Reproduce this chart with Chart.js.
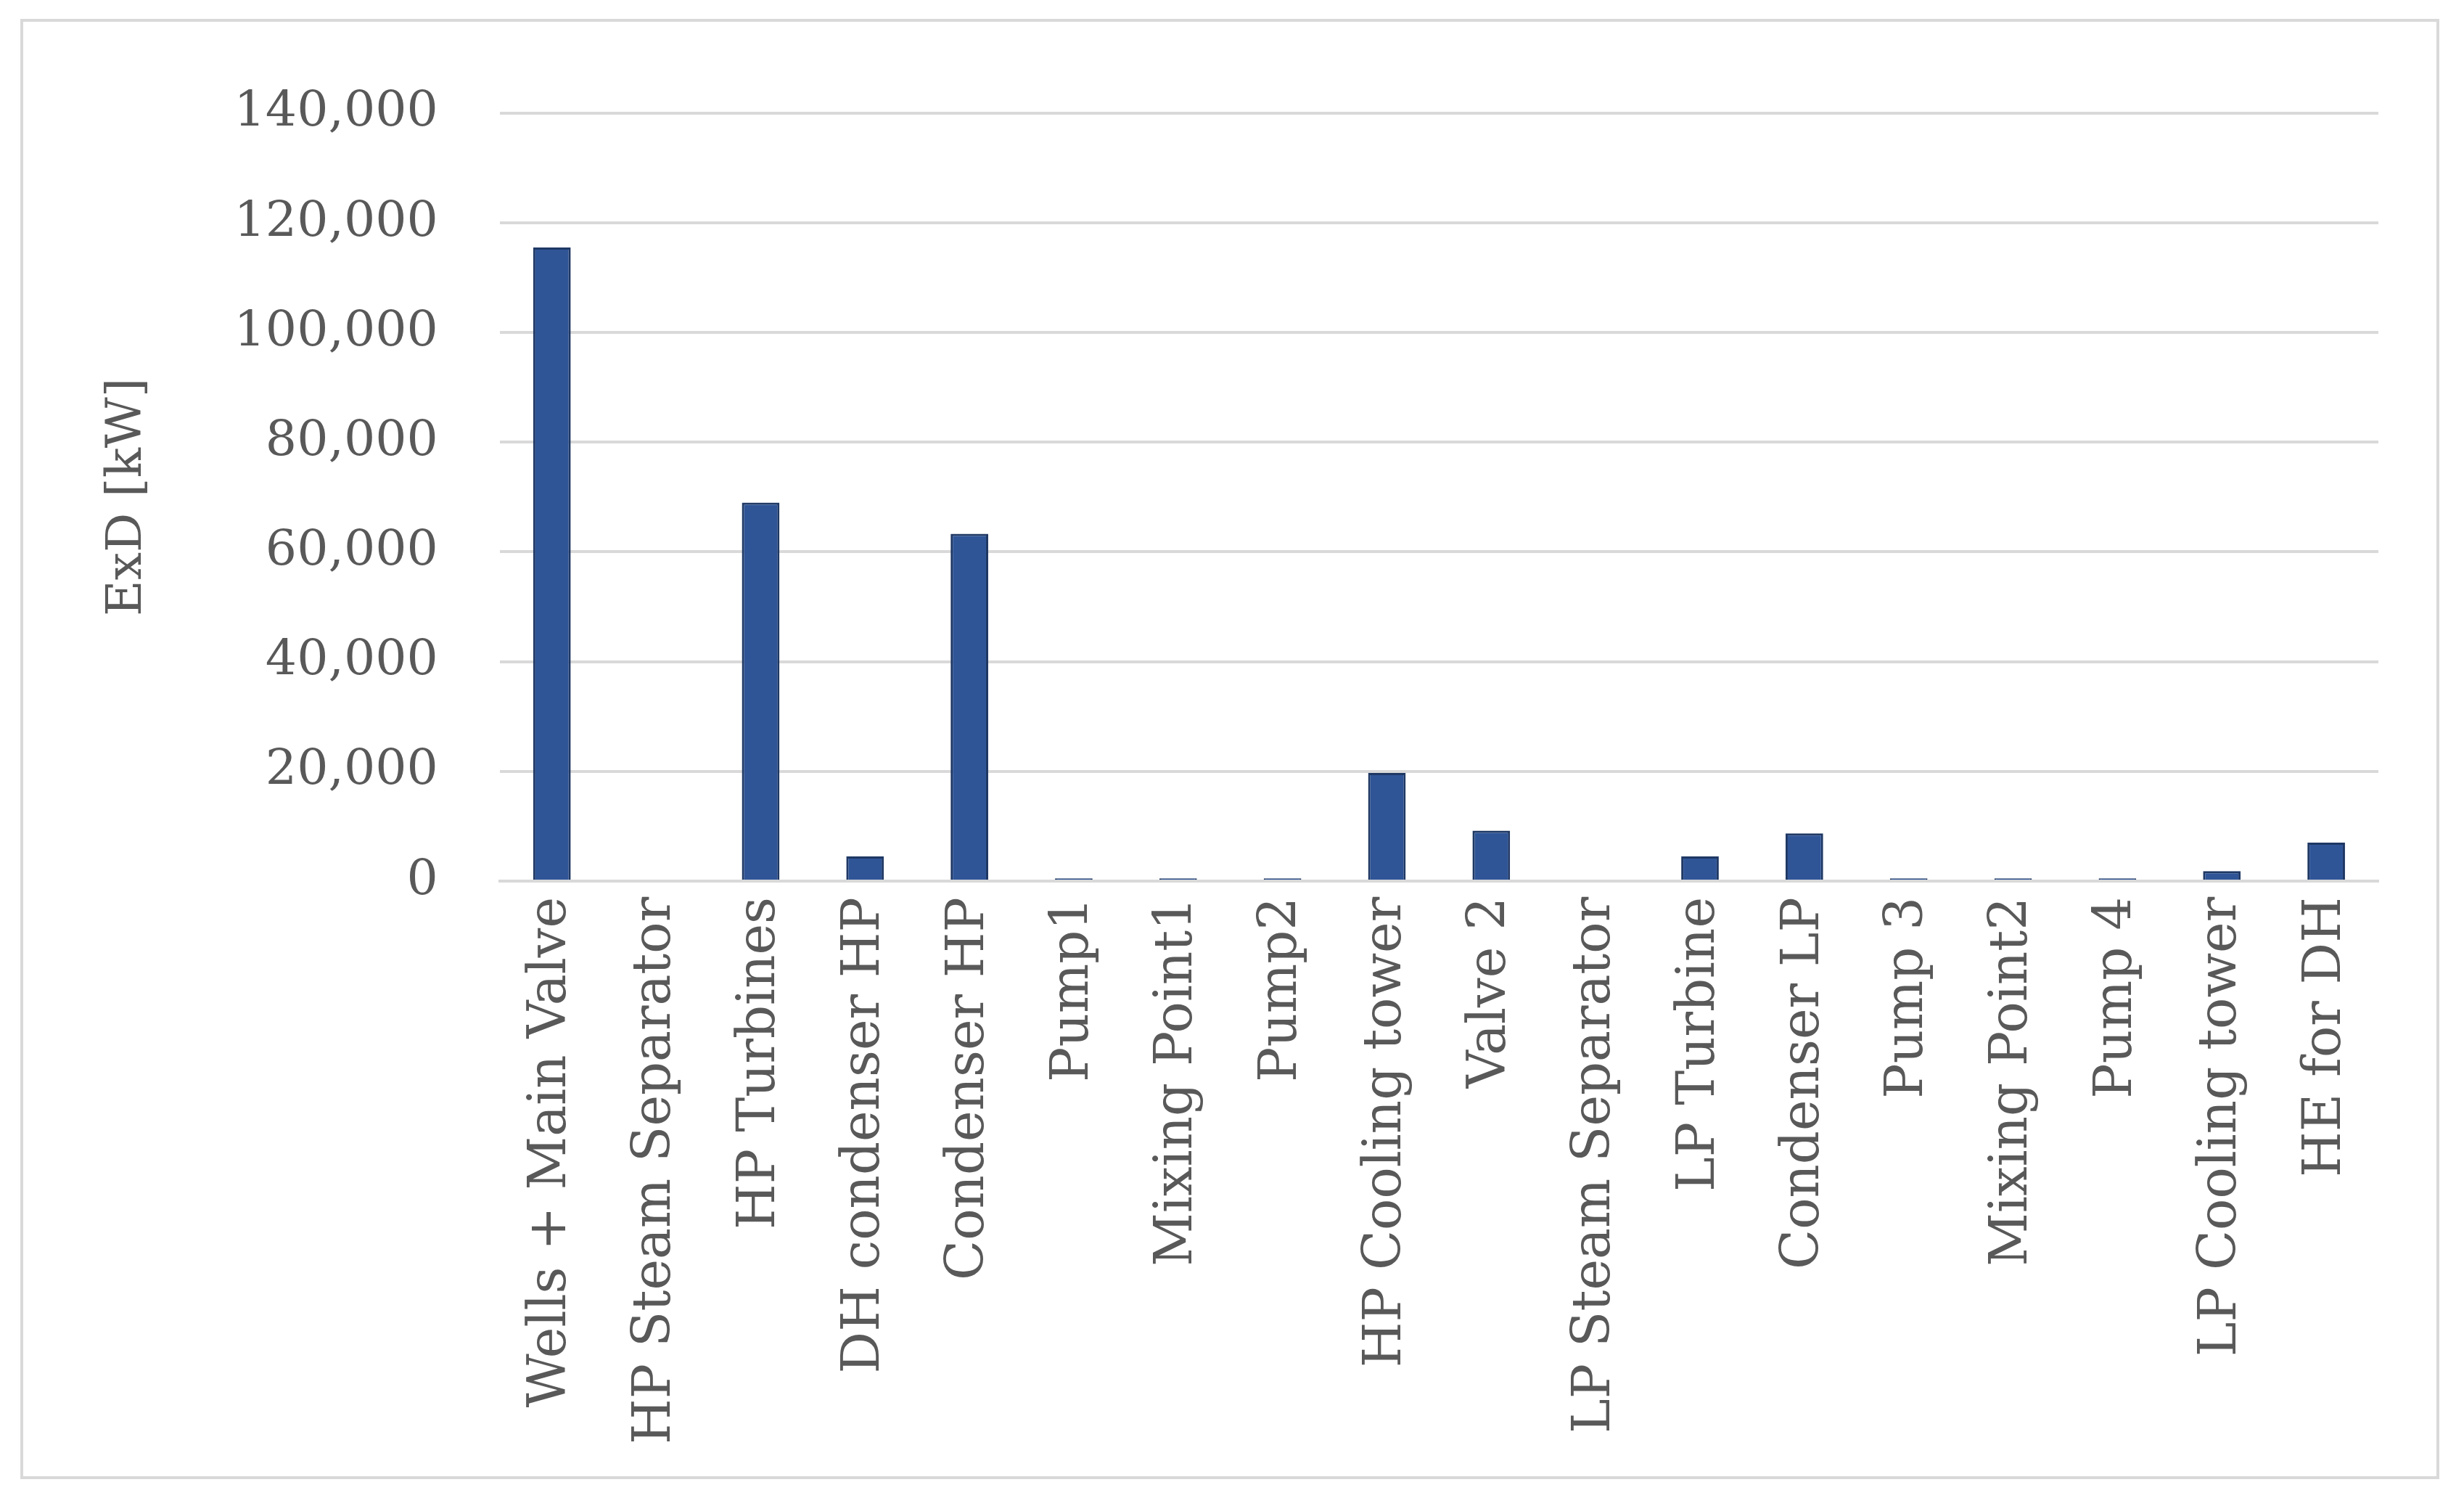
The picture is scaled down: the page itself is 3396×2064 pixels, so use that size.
<!DOCTYPE html>
<html><head><meta charset="utf-8">
<script src="https://cdn.jsdelivr.net/npm/chart.js@4/dist/chart.umd.min.js"></script>
<style>
html,body{margin:0;padding:0;background:#fff;}
#wrap{position:absolute;left:28px;top:26px;width:3334px;height:2012px;border:4px solid #d9d9d9;box-sizing:border-box;}
canvas{display:block;}
</style></head><body>
<div id="wrap"><canvas id="c"></canvas></div>
<script>
const categories = ["Wells + Main Valve","HP Steam Separator","HP Turbines","DH condenser HP","Condenser HP","Pump1","Mixing Point1","Pump2","HP Cooling tower","Valve 2","LP Steam Separator","LP Turbine","Condenser LP","Pump 3","Mixing Point2","Pump 4","LP Cooling tower","HE for DH"];
const exdValues = [115500,0,69000,4500,63300,500,500,500,19700,9200,0,4500,8700,500,500,500,1800,7000];
const yTicks = [0,20000,40000,60000,80000,100000,120000,140000];

const labelFont = {family:"'DejaVu Serif', serif", weight:'normal', size:72};
const tickFont = {family:"'DejaVu Serif', serif", weight:'normal', size:68};
new Chart(document.getElementById('c'), {
  type:'bar',
  data:{labels:categories, datasets:[{data:exdValues, backgroundColor:'#2F5597', borderColor:'#1F3864', borderWidth:3, categoryPercentage:1, barPercentage:0.36}]},
  options:{
    responsive:true, maintainAspectRatio:false, animation:false,
    layout:{padding:{left:100,right:80,top:70,bottom:30}},
    plugins:{legend:{display:false},tooltip:{enabled:false}},
    scales:{
      x:{grid:{display:false}, border:{color:'#d9d9d9',width:4},
         ticks:{color:'#595959',font:labelFont,maxRotation:90,minRotation:90,autoSkip:false,padding:14}},
      y:{min:0,max:140000,afterBuildTicks:a=>{a.ticks=yTicks.map(v=>({value:v}));},
         grid:{color:'#d9d9d9',lineWidth:4,drawTicks:false}, border:{display:false},
         ticks:{color:'#595959',font:tickFont,padding:85,callback:v=>v.toLocaleString('en-US')},
         title:{display:true,text:'ExD [kW]',color:'#595959',font:tickFont,padding:{bottom:20}}}
    }
  }
});
</script>
</body></html>
